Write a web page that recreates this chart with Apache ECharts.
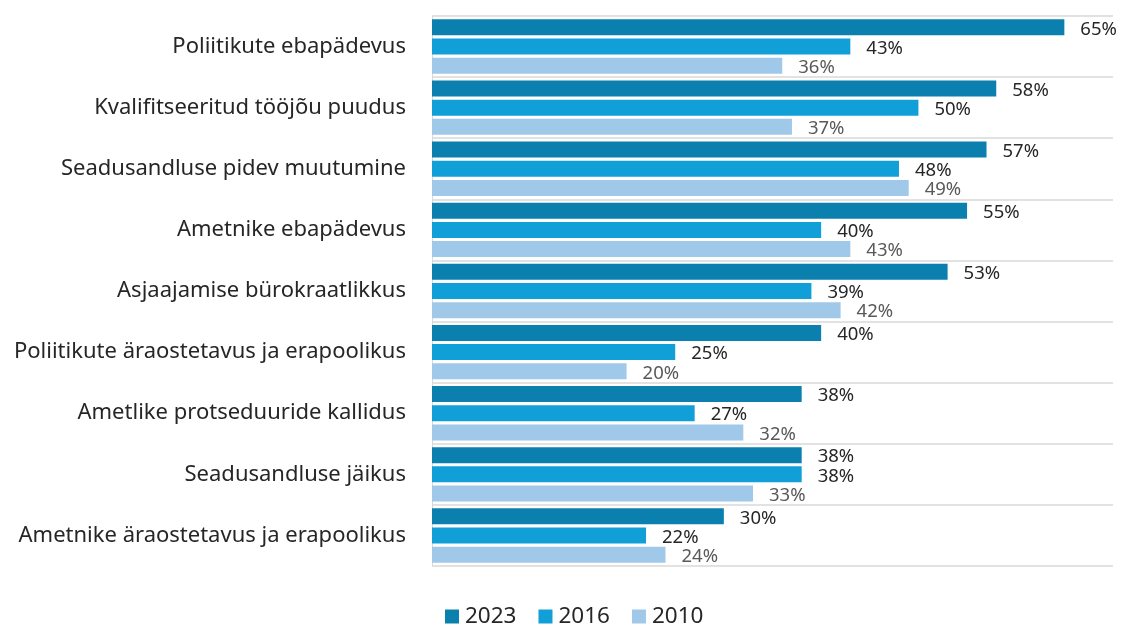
<!DOCTYPE html>
<html><head><meta charset="utf-8">
<script src="https://cdn.jsdelivr.net/npm/echarts@6/dist/echarts.min.js"></script>
<style>html,body{margin:0;padding:0;background:#fff}#c{width:1122px;height:625px}</style>
</head><body><div id="c"></div>
<script>
const categories = [
  "Poliitikute ebapädevus",
  "Kvalifitseeritud tööjõu puudus",
  "Seadusandluse pidev muutumine",
  "Ametnike ebapädevus",
  "Asjaajamise bürokraatlikkus",
  "Poliitikute äraostetavus ja erapoolikus",
  "Ametlike protseduuride kallidus",
  "Seadusandluse jäikus",
  "Ametnike äraostetavus ja erapoolikus"
];
const seriesNames = ["2023", "2016", "2010"];
const values2023 = [65, 58, 57, 55, 53, 40, 38, 38, 30];
const values2016 = [43, 50, 48, 40, 39, 25, 27, 38, 22];
const values2010 = [36, 37, 49, 43, 42, 20, 32, 33, 24];

const colors = ["#0b80ae", "#109fd7", "#a0c8e8"];
const labelColors = ["#262626", "#262626", "#595959"];
const font = "'Noto Sans', sans-serif";
const allValues = [values2023, values2016, values2010];

const chart = echarts.init(document.getElementById('c'), null, {renderer: 'canvas'});
chart.setOption({
  animation: false,
  textStyle: {fontFamily: font},
  grid: {left: 432, right: 9, top: 16, bottom: 59, containLabel: false},
  legend: {
    left: 440, top: 600,
    itemWidth: 14, itemHeight: 14, itemGap: 22,
    icon: 'rect',
    textStyle: {fontSize: 22.5, color: '#262626', fontFamily: font, padding: [0, 0, 0, 1]},
    data: seriesNames
  },
  xAxis: {
    type: 'value', min: 0, max: 70,
    axisLabel: {show: false}, axisLine: {show: false}, axisTick: {show: false},
    splitLine: {show: false}
  },
  yAxis: {
    type: 'category', inverse: true, data: categories,
    axisLine: {show: true, lineStyle: {color: '#d9d9d9', width: 1}},
    axisTick: {show: false},
    axisLabel: {fontSize: 22, color: '#262626', margin: 26, fontFamily: font},
    splitLine: {show: true, lineStyle: {color: '#d9d9d9', width: 1.5}}
  },
  series: seriesNames.map((n, i) => ({
    name: n, type: 'bar', data: allValues[i],
    itemStyle: {color: colors[i]},
    barWidth: 16, barGap: '20%', barCategoryGap: '11%',
    label: {
      show: true, position: 'right', distance: 16, offset: [0, 2],
      formatter: '{c}%', fontSize: 18.5, color: labelColors[i], fontFamily: font
    }
  }))
});
</script></body></html>
